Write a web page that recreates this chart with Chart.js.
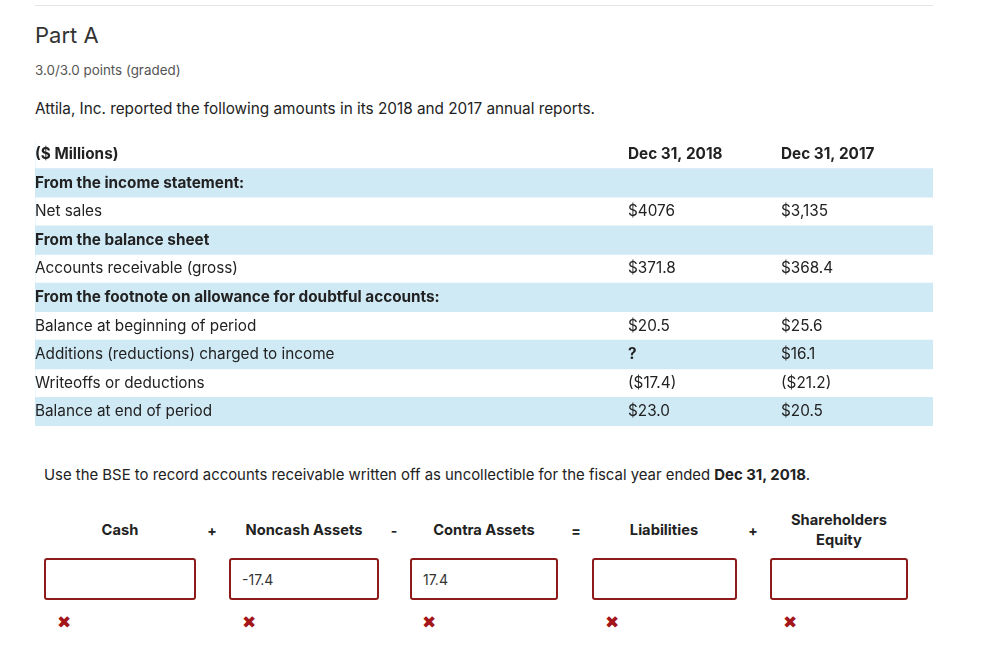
<!DOCTYPE html>
<html>
<head>
<meta charset="utf-8">
<script src="https://cdn.jsdelivr.net/npm/chart.js@4.4.0/dist/chart.umd.min.js"></script>
<style>
  html, body { margin: 0; padding: 0; background: #fff; }
  body { width: 1000px; height: 669px; position: relative; overflow: hidden;
         font-family: Inter, "Noto Sans", sans-serif; color: #222; }
  .abs { position: absolute; line-height: 1; white-space: nowrap; }
  #rule { position: absolute; left: 35px; top: 5px; width: 898px; height: 1px; background: #e4e4e4; }
  #tableWrap { position: absolute; left: 35px; top: 140px; width: 898px; height: 286px; }
  .bse-head { position: absolute; font-weight: 700; font-size: 14.7px; line-height: 20px;
              text-align: center; transform: translateX(-50%); color: #222; }
  .bse-op { position: absolute; font-weight: 700; font-size: 14px; line-height: 1;
            transform: translate(-50%, -50%); color: #222; }
  .bse-box { position: absolute; top: 558px; height: 38px; border: 2px solid #8e1b1b;
             border-radius: 3px; box-sizing: content-box; }
  .bse-box span { position: absolute; left: 11px; top: 50%; transform: translateY(-50%);
                  font-size: 14px; color: #333; }
  .bse-x { position: absolute; top: 622px; transform: translate(-50%, -50%);
           font-family: "DejaVu Sans", sans-serif; font-size: 17px; color: #a3161a; line-height: 1; }
</style>
</head>
<body>
<div id="rule"></div>
<div class="abs" style="left:35px; top:24px; font-size:22px; color:#333;">Part A</div>
<div class="abs" style="left:35px; top:64px; font-size:13.4px; color:#555;">3.0/3.0 points (graded)</div>
<div class="abs" style="left:35px; top:101px; font-size:15.3px; color:#222;">Attila, Inc. reported the following amounts in its 2018 and 2017 annual reports.</div>

<div id="tableWrap"><canvas id="reportTable" width="898" height="286"></canvas></div>

<div class="abs" style="left:44px; top:468px; font-size:14.9px; color:#222;">Use the BSE to record accounts receivable written off as uncollectible for the fiscal year ended <b>Dec 31, 2018</b>.</div>

<div id="bse"></div>

<script>
// 表のデータ
const rowLabels = [
    '($ Millions)',
    'From the income statement:',
    'Net sales',
    'From the balance sheet',
    'Accounts receivable (gross)',
    'From the footnote on allowance for doubtful accounts:',
    'Balance at beginning of period',
    'Additions (reductions) charged to income',
    'Writeoffs or deductions',
    'Balance at end of period'
];
const col2018 = ['Dec 31, 2018', '', '$4076', '', '$371.8', '', '$20.5', '?', '($17.4)', '$23.0'];
const col2017 = ['Dec 31, 2017', '', '$3,135', '', '$368.4', '', '$25.6', '$16.1', '($21.2)', '$20.5'];
const shadedRows = [0, 1, 0, 1, 0, 1, 0, 1, 0, 1];
const boldRows = [1, 1, 0, 1, 0, 1, 0, 0, 0, 0];

// BSE のデータ
const bseLabels = ['Cash', 'Noncash Assets', 'Contra Assets', 'Liabilities', 'Shareholders<br>Equity'];
const bseOps = ['+', '-', '=', '+'];
const bseEntries = ['', '-17.4', '17.4', '', ''];

const textColor = '#222';
const bandColor = '#cfe9f5';
const cellFontSize = 15.3;
const valueCols = [593 / 898, 746 / 898]; // 列の位置（x軸の割合）

document.addEventListener('DOMContentLoaded', function() {
    drawTable();
    drawBse();
});

// 列の値を描くプラグイン
const columnText = {
    id: 'columnText',
    afterDraw(chart) {
        const ctx = chart.ctx;
        const x = chart.scales.x;
        const y = chart.scales.y;
        ctx.save();
        ctx.textBaseline = 'middle';
        ctx.textAlign = 'left';
        ctx.fillStyle = textColor;
        [col2018, col2017].forEach((col, c) => {
            col.forEach((txt, i) => {
                if (!txt) return;
                const bold = i === 0 || txt === '?';
                ctx.font = (bold ? '700 ' : '400 ') + cellFontSize + 'px Inter';
                ctx.fillText(txt, x.getPixelForValue(valueCols[c]), y.getPixelForValue(i));
            });
        });
        ctx.restore();
    }
};

function drawTable() {
    const ctx = document.getElementById('reportTable').getContext('2d');
    new Chart(ctx, {
        type: 'bar',
        data: {
            labels: rowLabels,
            datasets: [{
                data: shadedRows,
                backgroundColor: bandColor,
                borderWidth: 0,
                barPercentage: 1,
                categoryPercentage: 1
            }]
        },
        options: {
            indexAxis: 'y',
            responsive: false,
            animation: false,
            layout: { padding: 0 },
            plugins: {
                legend: { display: false },
                tooltip: { enabled: false }
            },
            scales: {
                x: { type: 'linear', min: 0, max: 1, display: false },
                y: {
                    position: 'left',
                    grid: { display: false, drawTicks: false },
                    border: { display: false },
                    afterFit: function(scale) {
                        scale.width = 0;
                        scale.paddingTop = 0;
                        scale.paddingBottom = 0;
                    },
                    ticks: {
                        z: 1, // 帯の上に描く
                        mirror: true,
                        autoSkip: false,
                        padding: 0,
                        color: textColor,
                        font: function(c) {
                            return { family: 'Inter', size: cellFontSize, weight: boldRows[c.index] ? '700' : '400' };
                        }
                    }
                }
            }
        },
        plugins: [columnText]
    });
}

function drawBse() {
    const wrap = document.getElementById('bse');
    const headX = [120, 304, 484, 664, 839];
    const opX = [212, 394, 576, 753];
    const boxL = [44, 229, 410, 592, 770];
    const boxR = [196, 379, 558, 737, 908];
    const markX = [64, 249, 429, 612, 790];

    bseLabels.forEach((label, i) => {
        const h = document.createElement('div');
        h.className = 'bse-head';
        h.innerHTML = label;
        h.style.left = headX[i] + 'px';
        h.style.top = (label.indexOf('<br>') >= 0 ? 510 : 520) + 'px';
        wrap.appendChild(h);

        const box = document.createElement('div');
        box.className = 'bse-box';
        box.style.left = boxL[i] + 'px';
        box.style.width = (boxR[i] - boxL[i] - 4) + 'px';
        if (bseEntries[i]) {
            const s = document.createElement('span');
            s.textContent = bseEntries[i];
            box.appendChild(s);
        }
        wrap.appendChild(box);

        const m = document.createElement('div');
        m.className = 'bse-x';
        m.style.left = markX[i] + 'px';
        m.textContent = '✖';
        wrap.appendChild(m);
    });

    bseOps.forEach((op, i) => {
        const o = document.createElement('div');
        o.className = 'bse-op';
        o.textContent = op;
        o.style.left = opX[i] + 'px';
        o.style.top = '531px';
        wrap.appendChild(o);
    });
}
</script>
</body>
</html>
